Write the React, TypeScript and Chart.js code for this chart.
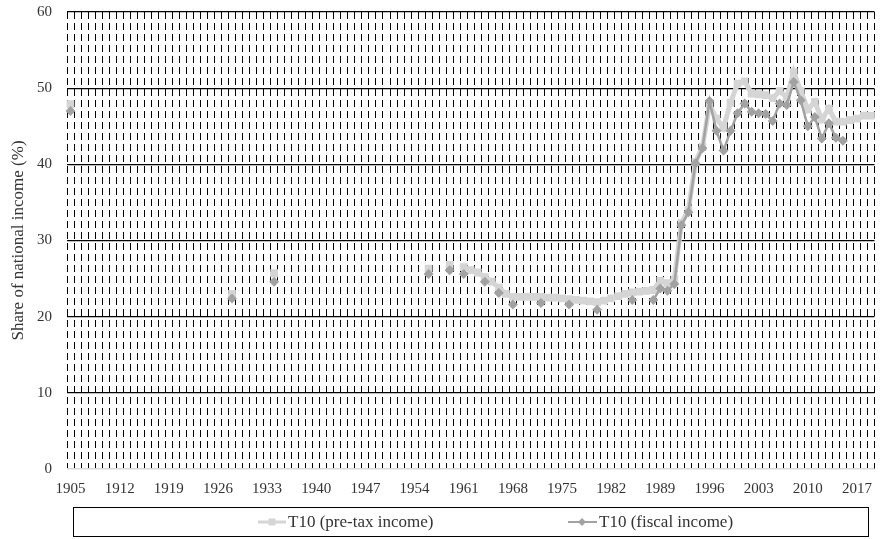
import React, { useEffect, useRef } from 'react';
import { Chart, registerables } from 'chart.js';

Chart.register(...registerables);

const FIRST_YEAR = 1905;
const LAST_YEAR = 2019;
const categories: string[] = [];
for (let y = FIRST_YEAR; y <= LAST_YEAR; y++) categories.push(String(y));

const seriesNames = ['T10 (pre-tax income)', 'T10 (fiscal income)'];
const yAxisTitle = 'Share of national income (%)';

const preTaxYears = [
  1905, 1928, 1934, 1956, 1959,
  1961, 1962, 1963, 1964, 1965, 1966, 1967, 1968, 1969, 1970,
  1971, 1972, 1973, 1974, 1975, 1976, 1977, 1978, 1979, 1980,
  1981, 1982, 1983, 1984, 1985, 1986, 1987, 1988, 1989, 1990,
  1991, 1992, 1993, 1994, 1995, 1996, 1997, 1998, 1999, 2000,
  2001, 2002, 2003, 2004, 2005, 2006, 2007, 2008, 2009, 2010,
  2011, 2012, 2013, 2014, 2015, 2016, 2017, 2018, 2019,
];
const preTaxValues = [
  47.9, 23.0, 25.7, 26.3, 26.8,
  26.5, 26.1, 25.8, 25.2, 24.6, 23.8, 23.0, 22.6, 22.6, 22.6,
  22.6, 22.6, 22.5, 22.5, 22.4, 22.3, 22.2, 22.1, 22.0, 21.9,
  22.1, 22.4, 22.7, 23.0, 23.2, 23.3, 23.4, 23.5, 24.7, 24.4,
  24.9, 32.3, 34.0, 40.3, 42.3, 47.8, 46.0, 44.8, 48.1, 50.6,
  50.9, 49.3, 49.2, 49.1, 48.7, 49.6, 48.8, 52.1, 49.6, 47.2,
  48.2, 45.9, 47.3, 45.6, 45.6, 45.8, 46.0, 46.4, 46.4,
];

const fiscalYears = [
  1905, 1928, 1934, 1956, 1959, 1961, 1964, 1966, 1968, 1972,
  1976, 1980, 1985, 1988, 1989, 1990, 1991, 1992, 1993, 1994,
  1995, 1996, 1997, 1998, 1999, 2000, 2001, 2002, 2003, 2004,
  2005, 2006, 2007, 2008, 2009, 2010, 2011, 2012, 2013, 2014,
  2015,
];
const fiscalValues = [
  47.0, 22.4, 24.6, 25.6, 26.1, 25.6, 24.6, 23.1, 21.6, 21.8,
  21.6, 20.9, 22.2, 22.2, 23.7, 23.4, 24.3, 32.0, 33.7, 40.1,
  42.1, 48.3, 44.4, 41.8, 44.4, 46.7, 48.0, 46.9, 46.7, 46.6,
  45.7, 48.0, 47.8, 50.8, 48.4, 45.0, 46.2, 43.4, 45.4, 43.5,
  43.1,
];

const yMin = 0;
const yMax = 60;
const yStep = 10;
const xLabelEvery = 7;

const PRE_COLOR = '#d5d5d5';
const FIS_COLOR = '#a2a2a2';
const TEXT_COLOR = '#333333';
const FONT = "'Liberation Serif', 'DejaVu Serif', serif";

function toSeries(years: number[], values: number[]): (number | null)[] {
  const m = new Map<number, number>();
  years.forEach((y, i) => m.set(y, values[i]));
  return categories.map((c) => (m.has(+c) ? (m.get(+c) as number) : null));
}

const legendPlugin = {
  id: 'boxedLegend',
  afterDraw(chart: any) {
    const ctx = chart.ctx as CanvasRenderingContext2D;
    ctx.save();
    ctx.strokeStyle = '#000';
    ctx.lineWidth = 1;
    ctx.strokeRect(73.5, 507.5, 795, 29);
    const cy = 522;
    ctx.font = `17px ${FONT}`;
    ctx.textBaseline = 'middle';
    ctx.fillStyle = TEXT_COLOR;

    // entry 1: pre-tax
    ctx.strokeStyle = PRE_COLOR;
    ctx.lineWidth = 3;
    ctx.beginPath();
    ctx.moveTo(258, cy);
    ctx.lineTo(286, cy);
    ctx.stroke();
    ctx.fillStyle = PRE_COLOR;
    ctx.fillRect(272 - 3.5, cy - 3.5, 7, 7);
    ctx.fillStyle = TEXT_COLOR;
    ctx.fillText(seriesNames[0], 288, cy + 1);

    // entry 2: fiscal
    ctx.strokeStyle = FIS_COLOR;
    ctx.lineWidth = 2;
    ctx.beginPath();
    ctx.moveTo(568, cy);
    ctx.lineTo(597, cy);
    ctx.stroke();
    ctx.fillStyle = FIS_COLOR;
    ctx.beginPath();
    ctx.moveTo(582 - 4, cy);
    ctx.lineTo(582, cy - 4);
    ctx.lineTo(582 + 4, cy);
    ctx.lineTo(582, cy + 4);
    ctx.closePath();
    ctx.fill();
    ctx.fillStyle = TEXT_COLOR;
    ctx.fillText(seriesNames[1], 599, cy + 1);
    ctx.restore();
  },
};

export default function App() {
  const canvasRef = useRef<HTMLCanvasElement | null>(null);

  useEffect(() => {
    if (!canvasRef.current) return;
    const chart = new Chart(canvasRef.current, {
      type: 'line',
      data: {
        labels: categories,
        datasets: [
          {
            label: seriesNames[0],
            data: toSeries(preTaxYears, preTaxValues),
            borderColor: PRE_COLOR,
            backgroundColor: PRE_COLOR,
            borderWidth: 5,
            pointStyle: 'rect',
            pointRadius: 5.5,
            pointBorderWidth: 0,
            spanGaps: false,
            tension: 0,
            order: 1,
          },
          {
            label: seriesNames[1],
            data: toSeries(fiscalYears, fiscalValues),
            borderColor: FIS_COLOR,
            backgroundColor: FIS_COLOR,
            borderWidth: 2.5,
            pointStyle: 'rectRot',
            pointRadius: 5,
            pointBorderWidth: 0,
            spanGaps: false,
            tension: 0,
            order: 0,
          },
        ],
      },
      options: {
        responsive: false,
        animation: false,
        devicePixelRatio: 1,
        layout: { padding: { top: 12, right: 5, left: 0, bottom: 0 } },
        plugins: {
          legend: { display: false },
          tooltip: { enabled: false },
        },
        scales: {
          x: {
            type: 'category',
            offset: true,
            grid: {
              display: true,
              offset: true,
              color: '#000',
              lineWidth: 1,
              drawTicks: false,
              borderDash: [7, 4],
            } as any,
            border: { display: false, dash: [7, 4] },
            ticks: {
              autoSkip: false,
              maxRotation: 0,
              minRotation: 0,
              padding: 11,
              color: TEXT_COLOR,
              font: { family: FONT, size: 15 },
              callback: (_v: any, i: number) => (i % xLabelEvery === 0 ? categories[i] : ''),
            },
            afterFit: (s: any) => {
              s.height = 70;
              s.paddingLeft = 0;
              s.paddingRight = 0;
            },
          },
          y: {
            min: yMin,
            max: yMax,
            grid: {
              drawTicks: false,
              color: (c: any) => (c.tick && c.tick.value === 0 ? '#d9d9d9' : '#000'),
              lineWidth: (c: any) => (c.tick && c.tick.value === 0 ? 1.5 : 1.25),
            },
            border: { display: false },
            ticks: {
              stepSize: yStep,
              padding: 15,
              color: TEXT_COLOR,
              font: { family: FONT, size: 15 },
            },
            title: {
              display: true,
              text: yAxisTitle,
              color: TEXT_COLOR,
              font: { family: FONT, size: 17 },
              padding: { top: 8, bottom: 0 },
            },
            afterFit: (s: any) => {
              s.width = 67;
              s.paddingTop = 0;
              s.paddingBottom = 0;
            },
          },
        },
      },
      plugins: [legendPlugin],
    });
    return () => chart.destroy();
  }, []);

  return (
    <div style={{ position: 'fixed', left: 0, top: 0, width: 880, height: 539, background: '#fff' }}>
      <canvas ref={canvasRef} width={880} height={539} style={{ display: 'block' }} />
    </div>
  );
}
